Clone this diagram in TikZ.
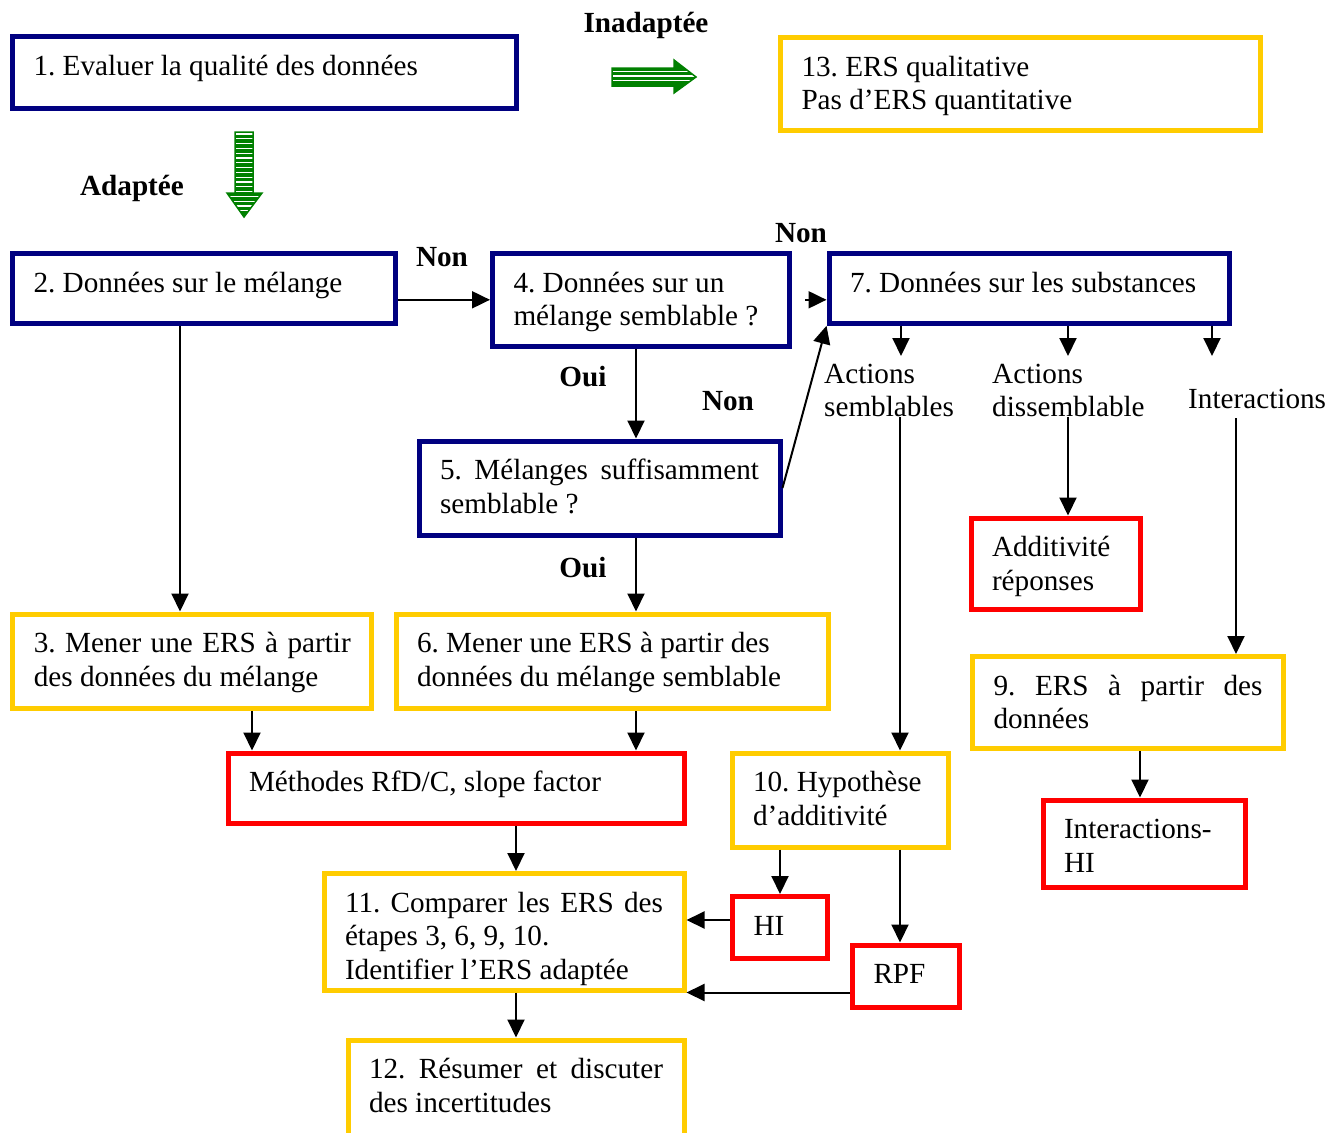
\documentclass[tikz,border=0pt]{standalone}
\usepackage{fontspec}
\setmainfont{Liberation Serif}
\usetikzlibrary{arrows.meta}
\definecolor{navy}{RGB}{0,0,128}
\definecolor{gold}{RGB}{255,204,0}
\definecolor{leafgreen}{RGB}{0,128,0}
\newcommand\bodyfont{\fontsize{29.2}{33.4}\selectfont\frenchspacing}
\newcommand\btext[3]{\parbox[t][#2pt][t]{#1pt}{\strut#3}}
\newcommand\ltext[1]{\parbox[t]{160pt}{\strut#1}}
\tikzset{
  box/.style={draw, line width=5pt, anchor=north west, inner xsep=21pt, inner ysep=15.6pt},
  bluebox/.style={box, draw=navy},
  goldbox/.style={box, draw=gold},
  redbox/.style={box, draw=red},
  answer/.style={font=\bodyfont\bfseries, inner sep=0pt, anchor=base},
  branch/.style={inner sep=0pt, anchor=north west},
  arr/.style={line width=2pt, -{Triangle[length=18pt,width=17pt]}},
}
\begin{document}
\begin{tikzpicture}[x=1pt, y=-1pt, font=\bodyfont]
  \useasboundingbox (0,0) rectangle (1342,1133);
  % boxes
  \node[bluebox] (b1) at (10,34) {\btext{461.5}{40.8}{1. Evaluer la qualité des données}};
  \node[goldbox] (b13) at (778,35) {\btext{437.5}{61.8}{13. ERS qualitative\\Pas d’ERS quantitative}};
  \node[bluebox] (b2) at (10,250.8) {\btext{341}{38.8}{2. Données sur le mélange}};
  \node[bluebox] (b4) at (490,250.8) {\btext{254.5}{61.8}{4. Données sur un\\mélange semblable ?}};
  \node[bluebox] (b7) at (826.5,250.8) {\btext{358}{38.8}{7. Données sur les substances}};
  \node[bluebox] (b5) at (416.5,438.5) {\btext{319}{62.8}{5. Mélanges suffisamment\linebreak semblable ?}};
  \node[goldbox] (b3) at (10.3,611.5) {\btext{317}{63.3}{3. Mener une ERS à partir\linebreak des données du mélange}};
  \node[goldbox] (b6) at (393.5,611.5) {\btext{390}{63.3}{6. Mener une ERS à partir des\\données du mélange semblable}};
  \node[redbox] (add) at (968.5,515.5) {\btext{127}{59.8}{Additivité\\réponses}};
  \node[goldbox] (b9) at (970,654) {\btext{269}{60.8}{9. ERS à partir des\linebreak données}};
  \node[redbox] (ihi) at (1040.5,797.5) {\btext{160}{55.8}{Interactions-\\HI}};
  \node[redbox] (met) at (225.5,750.5) {\btext{414}{38.8}{Méthodes RfD/C, slope factor}};
  \node[goldbox] (b10) at (729.5,750.5) {\btext{174}{62.8}{10. Hypothèse\\d’additivité}};
  \node[redbox] (hi) at (730,894) {\btext{53}{30.8}{HI}};
  \node[redbox] (rpf) at (850,942.5) {\btext{64.5}{30.8}{RPF}};
  \node[goldbox] (b11) at (321.5,871) {\btext{318}{85.3}{11. Comparer les ERS des\linebreak étapes 3, 6, 9, 10.\\Identifier l’ERS adaptée}};
  \node[goldbox] (b12) at (345.5,1037.5) {\btext{294}{88.8}{12. Résumer et discuter\linebreak des incertitudes}};
  % labels
  \node[answer] (inadapt) at (646,32) {Inadaptée};
  \node[answer] (adapt) at (132,195) {Adaptée};
  \node[answer] (non1) at (442,266) {Non};
  \node[answer] (non2) at (801,242) {Non};
  \node[answer] (oui1) at (583,386) {Oui};
  \node[answer] (non3) at (728,410) {Non};
  \node[answer] (oui2) at (583,577) {Oui};
  \node[branch] (simil) at (824,359.6) {\ltext{Actions\\semblables}};
  \node[branch] (dissim) at (992,359.6) {\ltext{Actions\\dissemblable}};
  \node[branch] (inter) at (1188,384.6) {\ltext{Interactions}};
  \coordinate (t1) at (901,356);
  \coordinate (t2) at (1068,356);
  \coordinate (t3) at (1212,356);
  % green arrows
  \begin{scope}
    \clip (612,68) -- (674,68) -- (674,60) -- (696,77) -- (674,93) -- (674,86) -- (612,86) -- cycle;
    \fill[leafgreen] (600,50) rectangle (700,100);
    \foreach \y in {71.5,76,80.5}
      \draw[white, line width=1.3pt] (612,\y) -- (700,\y);
  \end{scope}
  \draw[leafgreen, line width=1.5pt] (612,68) -- (674,68) -- (674,60) -- (696,77) -- (674,93) -- (674,86) -- (612,86) -- cycle;
  \begin{scope}
    \clip (235,132) -- (253,132) -- (253,193) -- (262,193) -- (244,217) -- (227,193) -- (235,193) -- cycle;
    \fill[leafgreen] (220,125) rectangle (270,220);
    \foreach \i in {0,...,16}
      \draw[white, line width=1.2pt] (224,{134+4.8*\i}) -- (266,{134+4.8*\i});
  \end{scope}
  \draw[leafgreen, line width=1.5pt] (235,132) -- (253,132) -- (253,193) -- (262,193) -- (244,217) -- (227,193) -- (235,193) -- cycle;
  % arrows
  \draw[arr] (b4.west -| b2.east) -- (b4.west);
  \draw[arr] ([xshift=13.5pt]b4.east) -- (b4.east -| b7.west);
  \draw[arr] (b4.south -| 636,0) -- (b5.north -| 636,0);
  \draw[arr] (b5.east) -- (b7.south west);
  \draw[arr] (b5.south -| 636,0) -- (b6.north -| 636,0);
  \draw[arr] (b2.south -| 180,0) -- (b3.north -| 180,0);
  \draw[arr] (b3.south -| 252,0) -- (met.north -| 252,0);
  \draw[arr] (b6.south -| 636,0) -- (met.north -| 636,0);
  \draw[arr] (met.south -| 516,0) -- (b11.north -| 516,0);
  \draw[arr] (b11.south -| 516,0) -- (b12.north -| 516,0);
  \draw[arr] (b7.south -| t1) -- (t1);
  \draw[arr] (b7.south -| t2) -- (t2);
  \draw[arr] (b7.south -| t3) -- (t3);
  \draw[arr] (simil.south -| 900,0) -- (b10.north -| 900,0);
  \draw[arr] (dissim.south -| 1068,0) -- (add.north -| 1068,0);
  \draw[arr] (inter.south -| 1236,0) -- (b9.north -| 1236,0);
  \draw[arr] (b9.south -| 1140,0) -- (ihi.north -| 1140,0);
  \draw[arr] (b10.south -| 780,0) -- (hi.north -| 780,0);
  \draw[arr] (b10.south -| 900,0) -- (rpf.north -| 900,0);
  \draw[arr] (hi.west |- 0,920) -- (b11.east |- 0,920);
  \draw[arr] (b11.south east -| rpf.west) -- (b11.south east);
\end{tikzpicture}
\end{document}
